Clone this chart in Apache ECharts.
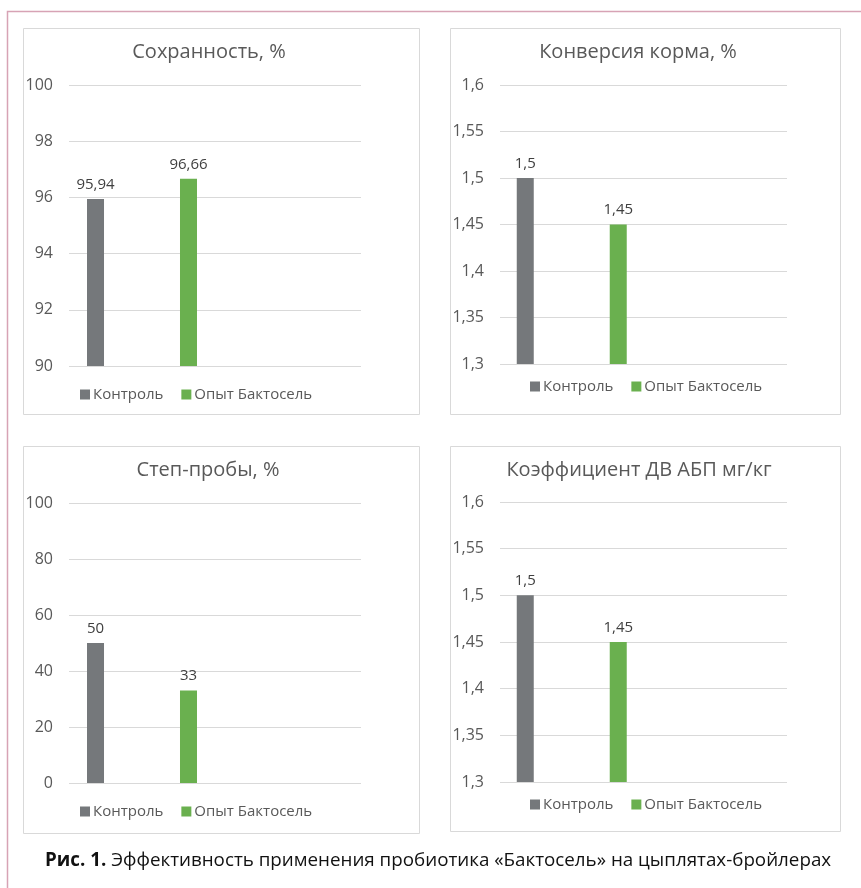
<!DOCTYPE html>
<html>
<head>
<meta charset="utf-8">
<script src="https://cdn.jsdelivr.net/npm/echarts@6/dist/echarts.min.js"></script>
<style>
  html, body { margin: 0; padding: 0; background: #fff; }
  #chart { width: 861px; height: 888px; }
</style>
</head>
<body>
<div id="chart"></div>
<script>
// chart data
const groups = ['Контроль', 'Опыт Бактосель']
const slots = ['1', '2'] // второй слот пустой, как в исходнике Excel
const titles = ['Сохранность, %', 'Конверсия корма, %', 'Степ-пробы, %', 'Коэффициент ДВ АБП мг/кг']
const controlValues = [95.94, 1.5, 50, 1.5]
const trialValues = [96.66, 1.45, 33, 1.45]
const axisMin = [90, 1.3, 0, 1.3]
const axisMax = [100, 1.6, 100, 1.6]
const axisStep = [2, 0.05, 20, 0.05]
const caption = 'Эффективность применения пробиотика «Бактосель» на цыплятах-бройлерах'

const FONT = '"Open Sans", "Noto Sans", sans-serif'
const GRAY = '#75787b'
const GREEN = '#6ab04f'
const TEXT = '#595959'

// layout of the four panels
const panels = [
  { box: [23, 28, 396, 386], grid: [69, 85, 292, 281], title: [204, 50], legend: [75, 382] },
  { box: [450, 28, 390, 386], grid: [500, 85, 287, 279], title: [633, 50], legend: [525, 374] },
  { box: [23, 446, 396, 387], grid: [69, 503, 292, 280], title: [203, 468], legend: [75, 799] },
  { box: [450, 446, 390, 385], grid: [500, 502, 287, 280], title: [634, 468], legend: [525, 792] },
]

const fmt = v => String(+(+v).toFixed(2)).replace('.', ',')

const chart = echarts.init(document.getElementById('chart'))

const option = {
  animation: false,
  textStyle: { fontFamily: FONT },
  title: [],
  legend: [],
  grid: [],
  xAxis: [],
  yAxis: [],
  series: [],
  graphic: [],
}

panels.forEach((p, i) => {
  option.graphic.push({
    type: 'rect',
    shape: { x: p.box[0] + 0.5, y: p.box[1] + 0.5, width: p.box[2], height: p.box[3] },
    style: { fill: '#fff', stroke: '#d9d9d9', lineWidth: 1 },
    z: -10,
  })
  option.title.push({
    text: titles[i],
    left: p.title[0],
    top: p.title[1] - 13,
    textAlign: 'center',
    textStyle: { color: TEXT, fontSize: 20, fontWeight: 'normal', fontFamily: FONT },
  })
  option.legend.push({
    data: groups,
    left: p.legend[0],
    top: p.legend[1],
    icon: 'rect',
    itemWidth: 10,
    itemHeight: 10,
    itemGap: 18,
    textStyle: { color: TEXT, fontSize: 15, fontFamily: FONT, padding: [0, 0, 0, -2] },
  })
  option.grid.push({ left: p.grid[0], top: p.grid[1], width: p.grid[2], height: p.grid[3] })
  option.xAxis.push({
    type: 'category',
    gridIndex: i,
    data: slots,
    axisLine: { show: false },
    axisTick: { show: false },
    axisLabel: { show: false },
  })
  option.yAxis.push({
    type: 'value',
    gridIndex: i,
    min: axisMin[i],
    max: axisMax[i],
    interval: axisStep[i],
    axisLine: { show: false },
    axisTick: { show: false },
    splitLine: { lineStyle: { color: '#d9d9d9', width: 1 } },
    axisLabel: { color: TEXT, fontSize: 16, margin: 16, fontFamily: FONT, formatter: fmt },
  })
  const label = {
    show: true,
    position: 'top',
    distance: 7,
    color: '#404040',
    fontSize: 15,
    fontFamily: FONT,
    formatter: d => fmt(d.value),
  }
  option.series.push({
    name: groups[0],
    type: 'bar',
    xAxisIndex: i,
    yAxisIndex: i,
    data: [controlValues[i], null],
    barWidth: 17,
    barGap: '447%',
    itemStyle: { color: GRAY },
    label,
  })
  option.series.push({
    name: groups[1],
    type: 'bar',
    xAxisIndex: i,
    yAxisIndex: i,
    data: [trialValues[i], null],
    barWidth: 17,
    itemStyle: { color: GREEN },
    label,
  })
})

// outer page frame
option.graphic.push({
  type: 'polyline',
  shape: { points: [[7.5, 888], [7.5, 11.5], [861, 11.5]] },
  style: { stroke: '#d7a3b5', lineWidth: 1.5, fill: null },
  z: -20,
})

// caption under the charts
option.graphic.push({
  type: 'text',
  left: 45,
  top: 851,
  style: {
    text: '{b|Рис. 1.} ' + caption,
    fill: '#111',
    fontSize: 18.8,
    fontFamily: FONT,
    rich: { b: { fontWeight: 'bold', fontSize: 18.8, fontFamily: FONT, fill: '#111' } },
  },
})

chart.setOption(option)
window.addEventListener('resize', () => chart.resize())
</script>
</body>
</html>
